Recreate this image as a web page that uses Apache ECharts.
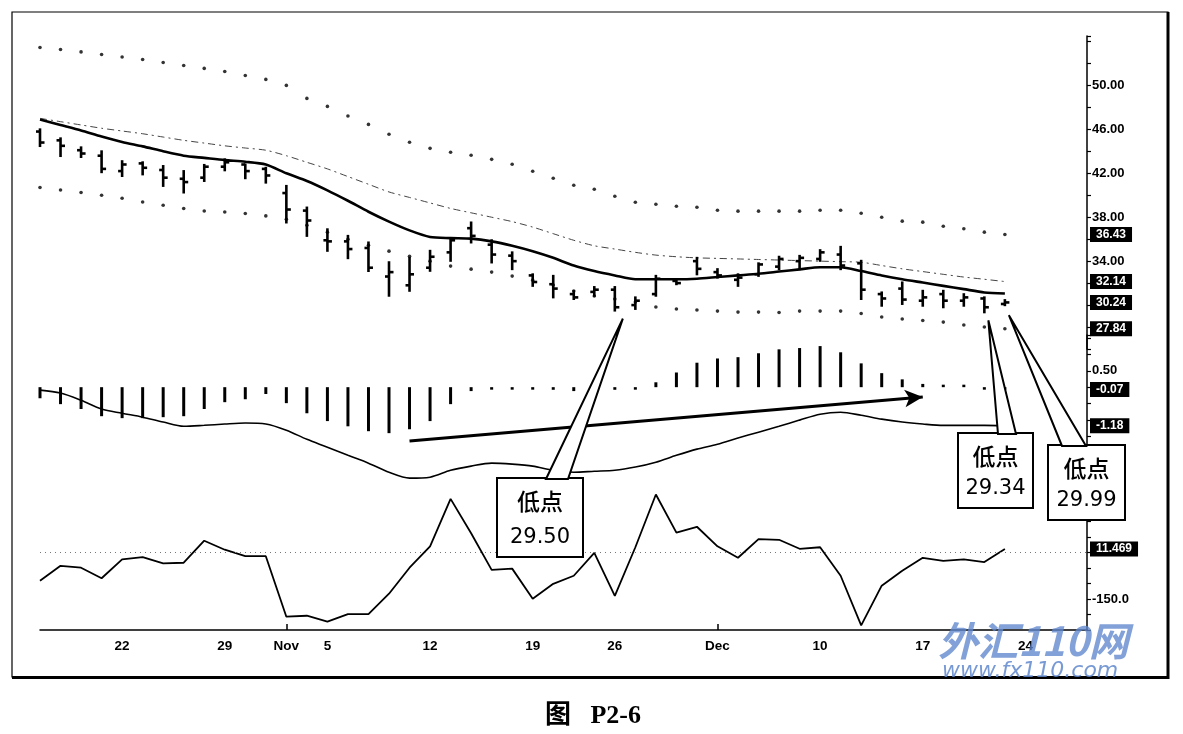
<!DOCTYPE html>
<html><head><meta charset="utf-8">
<script src="https://cdn.jsdelivr.net/npm/echarts@6.0.0/dist/echarts.min.js"></script>
<style>html,body{margin:0;padding:0;background:#fff}#c{width:1183px;height:734px}</style>
</head><body><div id="c"></div>
<script>
// ---------- data ----------
const categories = ['10-16','10-17','10-18','10-19','10-22','10-23','10-24','10-25','10-26','10-29','10-30','10-31',
 '11-01','11-02','11-05','11-06','11-07','11-08','11-09','11-12','11-13','11-14','11-15','11-16','11-19','11-20','11-21','11-23',
 '11-26','11-27','11-28','11-29','11-30','12-03','12-04','12-05','12-06','12-07','12-10','12-11','12-12','12-13','12-14',
 '12-17','12-18','12-19','12-20','12-21','12-24','12-26','12-27','12-28'];
const tickDates  = ['10-22','10-29','11-01','11-05','11-12','11-19','11-26','12-03','12-10','12-17','12-24'];
const tickLabels = ['22','29','Nov','5','12','19','26','Dec','10','17','24'];
const monthTicks = ['11-01','12-03'];

const opens  = [45.8,45.0,44.1,43.6,42.2,42.9,42.3,41.5,41.6,42.6,42.8,42.4,40.2,38.6,35.9,35.8,35.2,32.6,31.8,33.4,34.8,37.0,35.5,34.5,
                32.7,31.9,31.0,31.2,31.4,30.0,31.0,32.2,34.0,33.0,32.3,32.8,33.5,34.0,34.2,34.6,33.8,31.0,31.5,30.4,31.0,30.4,30.6,30.1];
const highs  = [46.0,45.18,44.36,44.0,43.1,43.0,42.66,42.2,42.76,43.27,42.8,42.5,40.85,38.88,36.9,36.3,35.7,33.9,34.3,34.94,36.0,37.52,35.9,34.8,
                32.8,32.66,31.27,31.64,31.64,30.7,32.66,32.36,34.3,33.27,32.8,33.8,34.4,34.48,35.0,35.3,34.03,31.15,32.06,31.3,31.3,30.99,30.7,30.45];
const lows   = [44.48,43.57,43.48,42.1,41.75,41.9,40.85,40.25,41.3,42.27,41.55,41.15,37.52,36.3,34.94,34.27,33.1,30.85,31.3,33.12,34.03,35.7,33.88,33.27,
                31.75,30.7,30.55,30.85,29.50,29.65,30.85,31.9,32.8,32.5,31.75,32.66,33.27,33.27,34.03,33.27,30.55,29.94,30.1,29.94,29.8,29.94,29.34,29.99];
const closes = [44.8,44.5,43.8,42.4,42.8,42.5,41.6,41.2,42.6,43.0,42.2,41.8,38.7,37.7,35.8,35.1,33.4,33.0,32.8,34.4,35.9,36.3,34.6,34.0,
                32.1,31.5,30.7,31.4,29.8,30.4,32.4,32.0,33.3,32.7,32.5,33.7,34.2,34.3,34.8,33.6,31.4,30.6,30.5,30.7,30.4,30.7,29.8,30.24];
const maLine = [46.9,46.4,45.9,45.35,44.85,44.45,44.0,43.6,43.4,43.2,43.05,42.8,42.0,41.3,40.45,39.5,38.5,37.6,36.8,36.2,36.1,36.05,35.8,35.4,
                34.9,34.3,33.6,33.1,32.7,32.35,32.35,32.35,32.4,32.55,32.7,32.85,33.05,33.25,33.45,33.45,33.1,32.7,32.35,32.05,31.75,31.45,31.15,31.05];
const midLine = [47.0,46.7,46.4,46.1,45.85,45.6,45.3,45.0,44.75,44.5,44.3,44.1,43.6,43.0,42.4,41.7,41.0,40.3,39.8,39.3,38.8,38.4,38.0,37.6,
                37.1,36.5,35.9,35.4,35.1,34.8,34.55,34.4,34.3,34.25,34.2,34.15,34.1,34.05,34.0,33.95,33.9,33.6,33.3,33.05,32.8,32.55,32.35,32.14];
const upperBand = [53.45,53.27,53.05,52.82,52.59,52.36,52.09,51.82,51.55,51.27,50.91,50.55,50.0,48.82,48.09,47.21,46.45,45.55,44.82,44.27,43.91,43.64,43.27,42.82,
                42.18,41.55,40.91,40.55,39.91,39.36,39.18,39.0,38.91,38.64,38.55,38.55,38.55,38.55,38.64,38.64,38.36,38.0,37.64,37.55,37.18,36.95,36.64,36.43];
const lowerBand = [40.70,40.48,40.25,40.0,39.73,39.39,39.09,38.79,38.57,38.48,38.34,38.12,37.82,37.27,36.64,36.0,35.45,34.91,34.45,34.0,33.55,33.27,33.0,32.64,
                32.27,31.82,31.27,30.82,30.55,30.27,29.82,29.64,29.55,29.45,29.36,29.36,29.32,29.45,29.45,29.45,29.23,28.91,28.73,28.59,28.45,28.18,28.0,27.84];
const macdHist = [-0.34,-0.52,-0.67,-0.89,-0.95,-0.95,-0.92,-0.89,-0.67,-0.46,-0.37,-0.21,-0.49,-0.80,-1.04,-1.20,-1.35,-1.41,-1.29,-1.04,-0.52,-0.12,-0.04,-0.06,
                -0.05,-0.08,-0.12,-0.10,-0.08,-0.02,0.15,0.45,0.75,0.88,0.92,1.04,1.16,1.20,1.26,1.07,0.73,0.43,0.24,0.10,0.03,0.01,-0.02,-0.07];
const macdLine = [-0.09,-0.18,-0.40,-0.67,-0.80,-0.92,-1.07,-1.20,-1.17,-1.13,-1.10,-1.13,-1.32,-1.60,-1.84,-2.09,-2.33,-2.61,-2.79,-2.76,-2.55,-2.42,-2.33,-2.36,
                -2.42,-2.55,-2.61,-2.58,-2.55,-2.45,-2.30,-2.09,-1.90,-1.75,-1.56,-1.38,-1.20,-1.01,-0.83,-0.77,-0.86,-0.98,-1.07,-1.13,-1.17,-1.17,-1.17,-1.18];
const cci = [-91,-43,-49,-83,-22,-15,-35,-33,38,9,-12,-12,-207,-204,-223,-199,-199,-133,-49,20,173,62,-56,-52,
             -149,-101,-75,-1,-140,17,187,64,83,20,-17,43,41,12,17,-75,-235,-107,-59,-17,-27,-22,-31,11.469];
const priceTicks = [34,38,42,46,50];
const macdTicks = [0.5,-2];
const cciTicks = [150,-150];
const arrowFrom = [18,-1.65], arrowTo = [43,-0.30];
const lowNotes = [28,46,47];

// ---------- helpers ----------
const tickMap = {}; tickDates.forEach((d,i)=>tickMap[d]=tickLabels[i]);
const has = (arr,v)=>arr.some(a=>Math.abs(a-v)<1e-6);
const AX = {color:'#000',width:1.5};
const LBL = {color:'#000',fontWeight:'bold',fontSize:13,fontFamily:'Liberation Sans, Arial',margin:5};
const boxLabel = (txt)=>({show:true,position:'end',distance:3,formatter:txt,backgroundColor:'#000',color:'#fff',
  padding:[2,6,1,6],fontSize:12,fontWeight:'bold',fontFamily:'Liberation Sans, Arial',opacity:1});
const valLine = (v,dec)=>({yAxis:v,lineStyle:{color:'rgba(0,0,0,0)',width:1,type:'solid'},label:boxLabel(v.toFixed(dec))});
const last = a=>a[a.length-1];

const grids = [
  {left:40,right:96,top:36,height:313},
  {left:40,right:96,top:335,height:150},
  {left:40,right:96,top:475,height:155}
];
const xAxes = [0,1,2].map(g=>({
  type:'category',gridIndex:g,data:categories,boundaryGap:false,
  show:g===2,
  axisLine:{show:true,onZero:false,lineStyle:AX},
  axisTick:{show:true,inside:true,length:6,interval:(i,v)=>monthTicks.includes(v),lineStyle:{color:'#000',width:1.5}},
  axisLabel:{interval:0,formatter:v=>tickMap[v]||'',margin:9,fontSize:13.5,color:'#000',fontWeight:'bold',fontFamily:'Liberation Sans, Arial'},
  splitLine:{show:false}
}));
const yBase = {type:'value',position:'right',axisLine:{show:true,onZero:false,lineStyle:AX},
  axisTick:{show:true,length:4,lineStyle:{color:'#000',width:1.2}},splitLine:{show:false}};
const yAxes = [
  Object.assign({},yBase,{gridIndex:0,min:26,max:54.5,interval:2,
     axisLabel:Object.assign({},LBL,{formatter:v=>has(priceTicks,v)?v.toFixed(2):''})}),
  Object.assign({},yBase,{gridIndex:1,min:-3,max:1.6,interval:0.5,
     axisLabel:Object.assign({},LBL,{formatter:v=>has(macdTicks,v)?v.toFixed(2):''})}),
  Object.assign({},yBase,{gridIndex:2,min:-250,max:250,interval:50,
     axisLabel:Object.assign({},LBL,{formatter:v=>has(cciTicks,v)?v.toFixed(1):''})})
];

const ohlcData = opens.map((o,i)=>[i,o,highs[i],lows[i],closes[i]]);

const option = {
  animation:false,
  backgroundColor:'#fff',
  grid:grids, xAxis:xAxes, yAxis:yAxes,
  series:[
    {type:'custom',name:'OHLC',xAxisIndex:0,yAxisIndex:0,data:ohlcData,encode:{x:0,y:[1,2,3,4]},z:5,clip:false,
     renderItem:function(params,api){
       const x=api.value(0);
       const o=api.coord([x,api.value(1)]), h=api.coord([x,api.value(2)]),
             l=api.coord([x,api.value(3)]), c=api.coord([x,api.value(4)]);
       const st={stroke:'#000',lineWidth:2.6};
       return {type:'group',children:[
         {type:'line',shape:{x1:h[0],y1:h[1]-1,x2:l[0],y2:l[1]+1},style:st},
         {type:'line',shape:{x1:o[0]-4,y1:o[1],x2:o[0],y2:o[1]},style:st},
         {type:'line',shape:{x1:c[0],y1:c[1],x2:c[0]+4.5,y2:c[1]},style:st}
       ]};
     },
     markLine:{silent:true,symbol:['none','none'],animation:false,
       data:[valLine(last(upperBand),2),valLine(last(midLine),2),valLine(last(closes),2),valLine(last(lowerBand),2)]}
    },
    {type:'line',name:'MA',xAxisIndex:0,yAxisIndex:0,data:maLine,symbol:'none',smooth:0.25,
     lineStyle:{color:'#000',width:2.6},z:4},
    {type:'line',name:'Mid',xAxisIndex:0,yAxisIndex:0,data:midLine,symbol:'none',smooth:0.25,
     lineStyle:{color:'#444',width:1,type:[7,4,2,4]},z:3},
    {type:'scatter',name:'Upper',xAxisIndex:0,yAxisIndex:0,data:upperBand,symbol:'circle',symbolSize:3.6,
     itemStyle:{color:'#000'}},
    {type:'scatter',name:'Lower',xAxisIndex:0,yAxisIndex:0,data:lowerBand,symbol:'circle',symbolSize:3.6,
     itemStyle:{color:'#000'}},
    {type:'bar',name:'Hist',xAxisIndex:1,yAxisIndex:1,data:macdHist,barWidth:3,barMinHeight:2.5,
     itemStyle:{color:'#000'},
     markLine:{silent:true,animation:false,symbol:['none','arrow'],symbolSize:[13,18],
       lineStyle:{color:'#000',width:3,type:'solid'},label:{show:false},
       data:[[{coord:arrowFrom},{coord:arrowTo}]]}},
    {type:'line',name:'MACD',xAxisIndex:1,yAxisIndex:1,data:macdLine,symbol:'none',smooth:0.3,clip:false,
     lineStyle:{color:'#000',width:1.6},
     markLine:{silent:true,symbol:['none','none'],animation:false,
       data:[valLine(last(macdHist),2),valLine(last(macdLine),2)]}},
    {type:'line',name:'CCI',xAxisIndex:2,yAxisIndex:2,data:cci,symbol:'none',clip:false,
     lineStyle:{color:'#000',width:1.8},
     markLine:{silent:true,symbol:['none','none'],animation:false,
       data:[{yAxis:0,lineStyle:{color:'#777',width:1,type:[1,4]},label:{show:false}},
             valLine(last(cci),3)]}}
  ]
};

const chart = echarts.init(document.getElementById('c'));
chart.setOption(option);

// ---------- annotations (callouts anchored to data lows) ----------
const noteLayout = [
  {box:[497,478,86,79], base:[546,568], tipOff:[8,8]},
  {box:[958,433,75,75], base:[998,1016], tipOff:[4,8]},
  {box:[1048,445,77,75], base:[1062,1086], tipOff:[4,10]}
];
const gfx = [];
lowNotes.forEach((idx,k)=>{
  const L = noteLayout[k];
  const p = chart.convertToPixel({xAxisIndex:0,yAxisIndex:0},[idx,lows[idx]]);
  const tip = [p[0]+L.tipOff[0], p[1]+L.tipOff[1]];
  const [bx,by,bw,bh] = L.box;
  gfx.push({type:'rect',z:100,shape:{x:bx,y:by,width:bw,height:bh},style:{fill:'#fff',stroke:'#000',lineWidth:2}});
  gfx.push({type:'polygon',z:101,shape:{points:[[L.base[0],by+1],tip,[L.base[1],by+1]]},style:{fill:'#fff',stroke:'#000',lineWidth:2}});
  gfx.push({type:'text',z:102,x:bx+bw/2,y:by+23,style:{text:'低点',font:'500 23px "Noto Sans CJK SC"',fill:'#000',align:'center',verticalAlign:'middle'}});
  gfx.push({type:'text',z:102,x:bx+bw/2,y:by+bh-19,style:{text:lows[idx].toFixed(2),font:'21px "DejaVu Sans"',fill:'#000',align:'center',verticalAlign:'middle'}});
});
// frame
gfx.push({type:'rect',z:90,shape:{x:12,y:12,width:1156,height:665},style:{fill:'none',stroke:'#000',lineWidth:1.2}});
gfx.push({type:'line',z:90,shape:{x1:1168,y1:12,x2:1168,y2:679},style:{stroke:'#000',lineWidth:3}});
gfx.push({type:'line',z:90,shape:{x1:12,y1:677.5,x2:1169,y2:677.5},style:{stroke:'#000',lineWidth:3}});
// watermark
gfx.push({type:'text',z:110,x:938,y:641,style:{text:'外汇110网',font:'italic bold 40px "Noto Sans CJK SC"',fill:'rgba(95,135,205,0.78)',align:'left',verticalAlign:'middle'}});
gfx.push({type:'text',z:110,x:942,y:671,style:{text:'www.fx110.com',font:'italic 22px "DejaVu Sans"',fill:'rgba(95,135,205,0.85)',align:'left',verticalAlign:'middle'}});
// caption
gfx.push({type:'text',z:110,x:593,y:716,style:{text:'图   P2-6',font:'bold 26px "Liberation Serif", "Noto Sans CJK SC"',fill:'#000',align:'center',verticalAlign:'middle'}});
chart.setOption({graphic:gfx});
</script></body></html>
